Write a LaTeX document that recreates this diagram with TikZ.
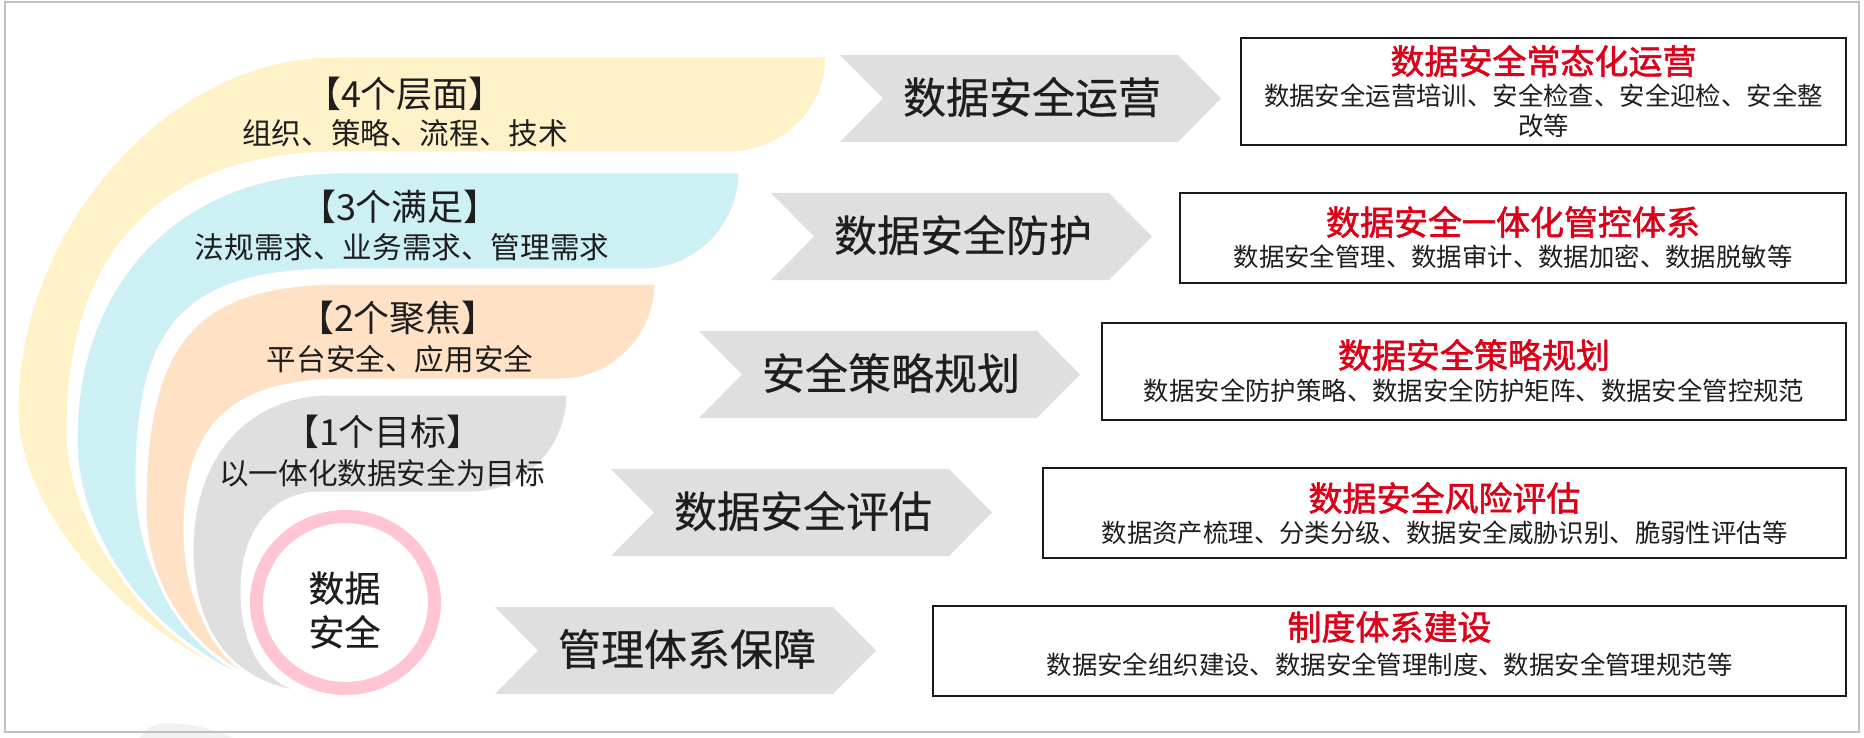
\documentclass[tikz,border=0pt]{standalone}
\usepackage{fontspec}
\usetikzlibrary{shapes.geometric}
\newfontfamily\cjk{Noto Sans CJK SC}
\newfontfamily\cjkmed{Noto Sans CJK SC}[FakeBold=0.4]
\newfontfamily\cjktitle{Noto Sans CJK SC}[FakeBold=1.6]
\definecolor{yel}{HTML}{FFF2C8}
\definecolor{cya}{HTML}{CCF0F3}
\definecolor{pea}{HTML}{FFE2C5}
\definecolor{gra}{HTML}{DFDFDF}
\definecolor{chev}{HTML}{DFDFDF}
\definecolor{pinkc}{HTML}{FFC5D3}
\definecolor{tred}{HTML}{DD0019}
\definecolor{txt}{HTML}{1E1E1E}
\definecolor{framec}{HTML}{BFBFBF}
\definecolor{faint}{HTML}{F1F1F1}
\definecolor{boxline}{HTML}{1A1A1A}
\begin{document}
\begin{tikzpicture}[x=1pt,y=-1pt,
  bandhead/.style={inner sep=0pt, font=\cjk\fontsize{36}{40}\selectfont, text=txt},
  bandbody/.style={inner sep=0pt, font=\cjk\fontsize{29.6}{34}\selectfont, text=txt},
  chevtext/.style={inner sep=0pt, font=\cjkmed\fontsize{43}{48}\selectfont, text=txt},
  coretext/.style={inner sep=0pt, font=\cjkmed\fontsize{36}{44}\selectfont, text=txt, align=center},
  boxtitle/.style={inner sep=0pt, font=\cjktitle\fontsize{34}{38}\selectfont, text=tred},
  boxbody/.style={inner sep=0pt, font=\cjk\fontsize{25.4}{30}\selectfont, text=txt, align=center},
  infobox/.style={draw=boxline, line width=2.2pt, fill=white, inner sep=0pt, rectangle},
  chevron/.style={fill=chev},
  band/.style={draw=white, line width=3pt, line join=round},
]
\useasboundingbox (0,0) rectangle (1864,738);
\fill[white] (0,0) rectangle (1864,738);
% faint shape at bottom
\fill[faint] (140,738) .. controls (145,728) and (155,723) .. (170,723) .. controls (195,724) and (215,730) .. (233,738) -- cycle;
% frame
\draw[framec, line width=2.5pt] (5,2) rectangle (1859,732);

% bands
\path[band, fill=yel] (325,694) .. controls (186.4,694) and (17,537.8) .. (17,410)
  .. controls (17,225.9) and (168.7,56) .. (333,56)
  -- (827,56) .. controls (827,109.5) and (783,153) .. (729,153)
  -- (340,153) .. controls (163.2,153) and (68,250) .. (68,430)
  .. controls (68,556.7) and (201.6,694) .. (325,694) -- cycle;
\path[band, fill=cya] (325,694) .. controls (200.5,694) and (76,567) .. (76,440)
  .. controls (76,279.2) and (181.6,172) .. (340,172)
  -- (740,172) .. controls (740,226) and (696.5,270) .. (643,270)
  -- (340,270) .. controls (188,270) and (137,322.5) .. (137,480)
  .. controls (137,597.7) and (221.6,694) .. (325,694) -- cycle;
\path[band, fill=pea] (325,694) .. controls (226,694) and (145,611.2) .. (145,510)
  .. controls (145,339.75) and (195,283) .. (345,283)
  -- (656,283) .. controls (656,336.5) and (613,380) .. (560,380)
  -- (345,380) .. controls (233,380) and (185,425) .. (185,530)
  .. controls (185,628.4) and (241,694) .. (325,694) -- cycle;
\path[band, fill=gra] (325,694) .. controls (241.2,694) and (192,640.7) .. (192,550)
  .. controls (192,456.4) and (247,394) .. (330,394)
  -- (568,394) .. controls (568,448.6) and (524.5,493) .. (471,493)
  -- (320,493) .. controls (273,493) and (242,531.8) .. (242,590)
  .. controls (242,655.5) and (272.7,694) .. (325,694) -- cycle;

% core ring
\node[ellipse, draw=pinkc, line width=13pt, fill=white, minimum width=178pt, minimum height=172pt, inner sep=0pt] (core) at (345.5,602.5) {};
\node[coretext] (coretxt) at (344.5,610) {数据\\安全};

% band texts
\node[bandhead] (h4) at (405,94) {【4个层面】};
\node[bandbody] (s4) at (405,133) {组织、策略、流程、技术};
\node[bandhead] (h3) at (400,207) {【3个满足】};
\node[bandbody] (s3) at (402,247) {法规需求、业务需求、管理需求};
\node[bandhead] (h2) at (398,318) {【2个聚焦】};
\node[bandbody] (s2) at (400,359) {平台安全、应用安全};
\node[bandhead] (h1) at (383,432) {【1个目标】};
\node[bandbody] (s1) at (382,473) {以一体化数据安全为目标};

% chevrons
\foreach \x/\y/\t [count=\i] in {840/55/数据安全运营, 771/193/数据安全防护, 699/331/安全策略规划, 611/469/数据安全评估, 495/607/管理体系保障} {
  \fill[chevron] (\x,\y) -- ++(338,0) -- ++(43,43.5) -- ++(-43,43.5) -- ++(-338,0) -- ++(43,-43.5) -- cycle;
  \node[chevtext] (chev\i) at (\x+192,\y+42) {\t};
}

% boxes
\node[infobox, minimum width=605pt, minimum height=107pt] (box1) at (1543.5,91.5) {};
\node[boxtitle] (t1) at (1543.5,61) {数据安全常态化运营};
\node[boxbody] (b1) at (1543.5,111) {数据安全运营培训、安全检查、安全迎检、安全整\\改等};

\node[infobox, minimum width=666pt, minimum height=90pt] (box2) at (1513,238) {};
\node[boxtitle] (t2) at (1513,222) {数据安全一体化管控体系};
\node[boxbody] (b2) at (1513,257) {数据安全管理、数据审计、数据加密、数据脱敏等};

\node[infobox, minimum width=744pt, minimum height=97pt] (box3) at (1474,371.5) {};
\node[boxtitle] (t3) at (1474,355) {数据安全策略规划};
\node[boxbody] (b3) at (1474,391) {数据安全防护策略、数据安全防护矩阵、数据安全管控规范};

\node[infobox, minimum width=803pt, minimum height=90pt] (box4) at (1444.5,513) {};
\node[boxtitle] (t4) at (1444.5,498) {数据安全风险评估};
\node[boxbody] (b4) at (1444.5,533) {数据资产梳理、分类分级、数据安全威胁识别、脆弱性评估等};

\node[infobox, minimum width=913pt, minimum height=90pt] (box5) at (1389.5,651) {};
\node[boxtitle] (t5) at (1389.5,627) {制度体系建设};
\node[boxbody] (b5) at (1389.5,665) {数据安全组织建设、数据安全管理制度、数据安全管理规范等};
\end{tikzpicture}
\end{document}
